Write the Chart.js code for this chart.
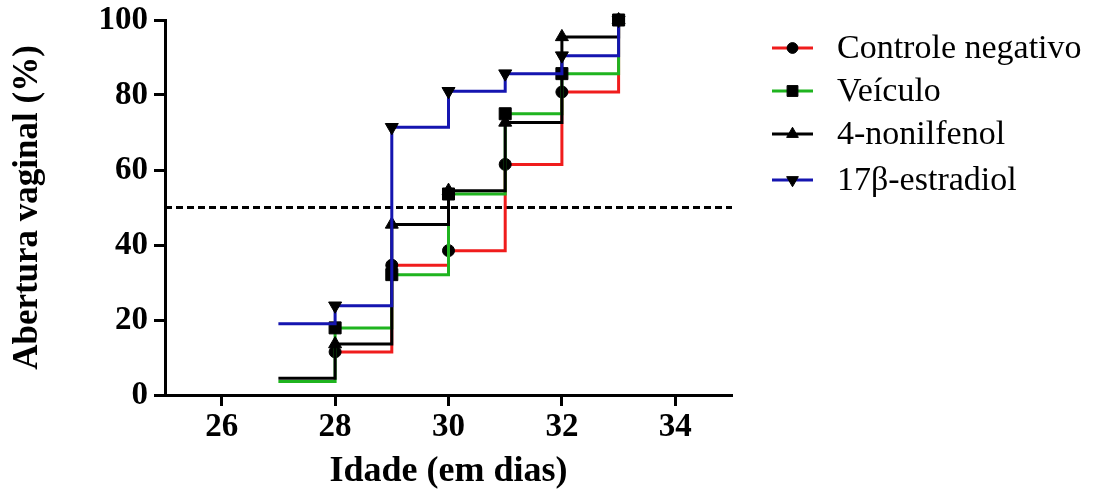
<!DOCTYPE html>
<html><head><meta charset="utf-8">
<script src="https://cdn.jsdelivr.net/npm/chart.js@4.4.0/dist/chart.umd.min.js"></script>
<style>html,body{margin:0;padding:0;background:#fff;}#wrap{width:1096px;height:490px;}</style>
</head><body><div id="wrap"><canvas id="c" width="1096" height="490"></canvas></div>
<script>
// ---- data ----
const days = [27, 28, 29, 30, 31, 32, 33];
const controleNegativo = [null, 11.5, 34.6, 38.5, 61.5, 80.8, 100];
const veiculo = [3.6, 17.9, 32.1, 53.6, 75.0, 85.7, 100];
const nonilfenol = [4.5, 13.6, 45.5, 54.5, 72.7, 95.5, 100];
const estradiol = [19.0, 23.8, 71.4, 81.0, 85.7, 90.5, 100];
const xTicks = [26, 28, 30, 32, 34];
const yTicks = [0, 20, 40, 60, 80, 100];
const referenceLevel = 50;
const xRange = [25, 35];
const seriesLabels = ['Controle negativo', 'Veículo', '4-nonilfenol', '17β-estradiol'];

// ---- styles ----
const FONT = '"Liberation Serif", "Times New Roman", serif';
const styles = [
  {color: '#f01c1c', pointStyle: 'circle', radius: 6, rotation: 0, order: 4},
  {color: '#1fb41f', pointStyle: 'rect', radius: 8.5, rotation: 0, order: 3},
  {color: '#000000', pointStyle: 'triangle', radius: 7.5, rotation: 0, order: 2},
  {color: '#1515b0', pointStyle: 'triangle', radius: 7.5, rotation: 180, order: 1}
];
const seriesValues = [controleNegativo, veiculo, nonilfenol, estradiol];

function toPoints(vals) { return days.map((d, i) => ({x: d, y: vals[i]})); }

const datasets = seriesValues.map((vals, i) => ({
  label: seriesLabels[i],
  data: toPoints(vals),
  stepped: 'before',
  borderColor: styles[i].color,
  borderWidth: 3,
  fill: false,
  clip: false,
  pointStyle: styles[i].pointStyle,
  pointRotation: styles[i].rotation,
  pointRadius: days.map((d, j) => j === 0 ? 0 : styles[i].radius),
  pointBackgroundColor: '#000',
  pointBorderColor: '#000',
  pointBorderWidth: 1,
  order: styles[i].order
}));
datasets.push({
  label: 'ref',
  data: [{x: xRange[0], y: referenceLevel}, {x: xRange[1], y: referenceLevel}],
  borderColor: '#000',
  borderWidth: 3,
  borderDash: [7, 4],
  pointRadius: 0,
  order: 5
});

// ---- custom legend (line + black marker + text) ----
const legendPlugin = {
  id: 'lineLegend',
  afterDraw(chart) {
    const ctx = chart.ctx;
    const x0 = 772, x1 = 813, tx = 837;
    const rowsY = [48, 91, 134, 180];
    ctx.save();
    seriesLabels.forEach((lab, i) => {
      const y = rowsY[i];
      ctx.strokeStyle = styles[i].color;
      ctx.lineWidth = 3;
      ctx.setLineDash([]);
      ctx.beginPath(); ctx.moveTo(x0, y); ctx.lineTo(x1, y); ctx.stroke();
      ctx.fillStyle = '#000'; ctx.strokeStyle = '#000'; ctx.lineWidth = 1;
      Chart.helpers.drawPoint(ctx, {pointStyle: styles[i].pointStyle, rotation: styles[i].rotation,
        radius: styles[i].radius * 0.9, borderWidth: 1}, (x0 + x1) / 2, y);
      ctx.fillStyle = '#000';
      ctx.font = '34px ' + FONT;
      ctx.textBaseline = 'middle';
      ctx.textAlign = 'left';
      ctx.fillText(lab, tx, y + 1);
    });
    ctx.restore();
  }
};

const axisCommon = {
  border: {display: true, color: '#000', width: 3},
  grid: {drawOnChartArea: false, drawTicks: true, tickLength: 11, tickWidth: 3, tickColor: '#000'},
  ticks: {color: '#000', font: {family: FONT, size: 33, weight: 'bold', lineHeight: 0.8}}
};

new Chart(document.getElementById('c'), {
  type: 'line',
  data: {datasets},
  options: {
    responsive: false,
    animation: false,
    devicePixelRatio: 1,
    layout: {padding: {left: 0, top: 20, right: 364, bottom: 0}},
    plugins: {legend: {display: false}, tooltip: {enabled: false}},
    scales: {
      x: {
        type: 'linear', min: xRange[0], max: xRange[1],
        border: axisCommon.border, grid: axisCommon.grid,
        ticks: Object.assign({}, axisCommon.ticks, {padding: 8}),
        afterBuildTicks: s => { s.ticks = xTicks.map(v => ({value: v})); },
        afterFit: s => { s.height = 95; },
        title: {display: true, text: 'Idade (em dias)', color: '#000',
          font: {family: FONT, size: 36, weight: 'bold', lineHeight: 1}, padding: {top: 0, bottom: 0}}
      },
      y: {
        type: 'linear', min: 0, max: 100,
        border: axisCommon.border, grid: axisCommon.grid,
        ticks: Object.assign({}, axisCommon.ticks, {padding: 6}),
        afterBuildTicks: s => { s.ticks = yTicks.map(v => ({value: v})); },
        afterFit: s => { s.width = 165; },
        title: {display: true, text: 'Abertura vaginal (%)', color: '#000',
          font: {family: FONT, size: 35, weight: 'bold', lineHeight: 1}, padding: {top: 10, bottom: 0}}
      }
    }
  },
  plugins: [legendPlugin]
});
</script></body></html>
